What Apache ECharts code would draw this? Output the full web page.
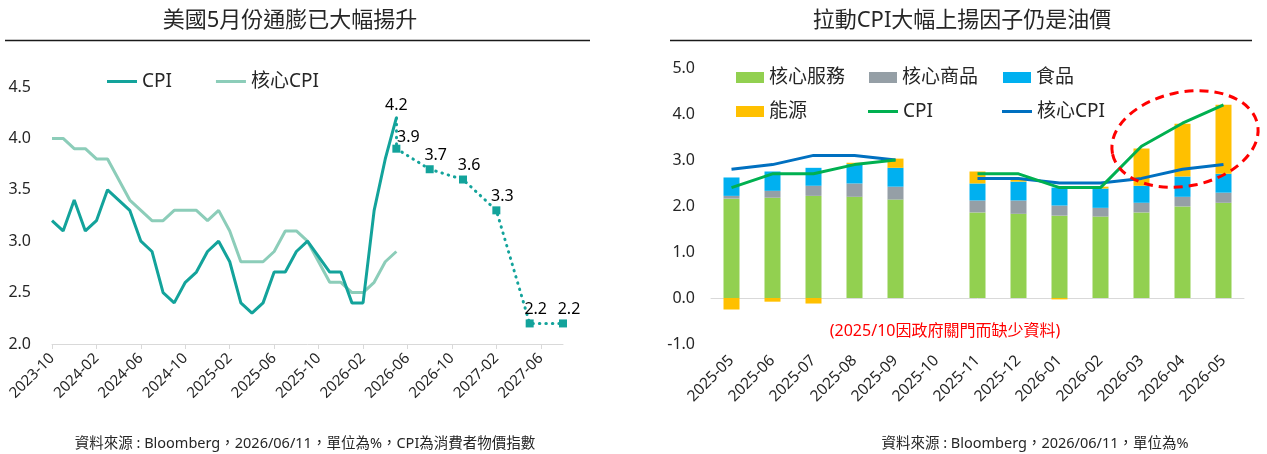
<!DOCTYPE html>
<html><head><meta charset="utf-8">
<script src="https://cdn.jsdelivr.net/npm/echarts@6/dist/echarts.min.js"></script>
<style>html,body{margin:0;padding:0;background:#fff}#c{width:1267px;height:454px}</style>
</head><body><div id="c"></div>
<script>
// ---------- Left chart data ----------
const leftMonths = ['2023-10','2023-11','2023-12',
 '2024-01','2024-02','2024-03','2024-04','2024-05','2024-06','2024-07','2024-08','2024-09','2024-10','2024-11','2024-12',
 '2025-01','2025-02','2025-03','2025-04','2025-05','2025-06','2025-07','2025-08','2025-09','2025-10','2025-11','2025-12',
 '2026-01','2026-02','2026-03','2026-04','2026-05','2026-06','2026-07','2026-08','2026-09','2026-10','2026-11','2026-12',
 '2027-01','2027-02','2027-03','2027-04','2027-05','2027-06','2027-07','2027-08'];
const leftCPI = [3.2,3.1,3.4,
 3.1,3.2,3.5,3.4,3.3,3.0,2.9,2.5,2.4,2.6,2.7,2.9,
 3.0,2.8,2.4,2.3,2.4,2.7,2.7,2.9,3.0,null,2.7,2.7,
 2.4,2.4,3.3,3.8,4.2,null,null,null,null,null,null,null,
 null,null,null,null,null,null,null,null];
const leftCore = [4.0,4.0,3.9,
 3.9,3.8,3.8,3.6,3.4,3.3,3.2,3.2,3.3,3.3,3.3,3.2,
 3.3,3.1,2.8,2.8,2.8,2.9,3.1,3.1,3.0,null,2.6,2.6,
 2.5,2.5,2.6,2.8,2.9,null,null,null,null,null,null,null,
 null,null,null,null,null,null,null,null];
const forecastMonths = ['2026-05','2026-08','2026-11','2027-02','2027-05','2027-08'];
const forecastValues = [3.9,3.7,3.6,3.3,2.2,2.2];
const leftYTicks = [2.0,2.5,3.0,3.5,4.0,4.5];

// ---------- Right chart data ----------
const rightMonths = ['2025-05','2025-06','2025-07','2025-08','2025-09','2025-10','2025-11','2025-12','2026-01','2026-02','2026-03','2026-04','2026-05'];
const coreServices = [2.16,2.18,2.22,2.20,2.14,null,1.86,1.83,1.79,1.77,1.86,1.99,2.07];
const coreGoods    = [0.06,0.15,0.22,0.29,0.28,null,0.26,0.29,0.22,0.19,0.21,0.21,0.22];
const food         = [0.40,0.42,0.39,0.42,0.41,null,0.37,0.41,0.39,0.42,0.37,0.44,0.41];
const energy       = [-0.25,-0.08,-0.12,0.03,0.20,null,0.26,0.06,-0.03,0.04,0.81,1.15,1.50];
const rightCPI     = [2.4,2.7,2.7,2.9,3.0,null,2.7,2.7,2.4,2.4,3.3,3.8,4.2];
const rightCore    = [2.8,2.9,3.1,3.1,3.0,null,2.6,2.6,2.5,2.5,2.6,2.8,2.9];
const rightYTicks = [-1.0,0.0,1.0,2.0,3.0,4.0,5.0];

const FONT = "'Noto Sans','Noto Sans CJK TC',sans-serif";
const TXT = '#262626';
const AX = '#D9D9D9';
const TEAL = '#13A39B', LTEAL = '#8CCDB9';
const C_SERV='#92D050', C_GOOD='#959FA6', C_FOOD='#00B0F0', C_ENER='#FFC000', C_CPI='#00B050', C_CORE='#0070C0';
const DOT = {color:TEAL, width:3, type:[0.5,6], cap:'round'};

const fcData = forecastMonths.map((m,i)=>{
  const item = {value:[m, forecastValues[i]]};
  if (i===0) item.label = {offset:[12,5]};
  return item;
});
const lastIdx = 31;
const cpiData = leftCPI.map((v,i)=> i===lastIdx ? {value:v, symbol:'circle', symbolSize:1, label:{show:true}} : v);

const chart = echarts.init(document.getElementById('c'));
const legendText = {color:TXT, fontSize:19, fontFamily:FONT};
function oneLegend(name, left, top, w, h){
  return {data:[name], left:left, top:top, itemWidth:w, itemHeight:h, icon:'rect', padding:0,
    itemGap:0, textStyle:legendText, selectedMode:false};
}
chart.setOption({
  animation:false,
  textStyle:{fontFamily:FONT},
  grid:[
    {left:52, top:87, width:511, height:257},
    {left:711, top:68, width:533, height:276}
  ],
  legend:[
    {data:['CPI','核心CPI'], left:107, top:72, itemWidth:30, itemHeight:3, icon:'rect', itemGap:44, padding:0,
     textStyle:{color:TXT, fontSize:19, fontFamily:FONT}, selectedMode:false},
    oneLegend('核心服務',736,68,28,11),
    oneLegend('核心商品',869,68,28,11),
    oneLegend('食品',1003,68,28,11),
    oneLegend('能源',736,102,28,11),
    oneLegend('CPI ',868,102,30,3),
    oneLegend('核心CPI ',1002,102,30,3)
  ],
  xAxis:[
    {type:'category', gridIndex:0, data:leftMonths, boundaryGap:false,
     axisLine:{lineStyle:{color:AX}}, axisTick:{interval:3, length:5, lineStyle:{color:AX}},
     axisLabel:{interval:3, rotate:45, margin:12, color:TXT, fontSize:15, fontFamily:FONT}, splitLine:{show:false}},
    {type:'category', gridIndex:1, data:rightMonths, position:'bottom',
     axisLine:{show:false, onZero:false}, axisTick:{show:false},
     axisLabel:{interval:0, rotate:45, margin:14, color:TXT, fontSize:15.5, fontFamily:FONT}},
    {type:'category', gridIndex:1, data:rightMonths, position:'bottom',
     axisLine:{onZero:true, lineStyle:{color:AX}}, axisTick:{length:5, lineStyle:{color:AX}},
     axisLabel:{show:false}}
  ],
  yAxis:[
    {type:'value', gridIndex:0, min:leftYTicks[0], max:leftYTicks[leftYTicks.length-1], interval:0.5,
     axisLine:{show:false}, axisTick:{show:false}, splitLine:{show:false},
     axisLabel:{margin:21, color:TXT, fontSize:16, fontFamily:FONT, formatter:v=>v.toFixed(1)}},
    {type:'value', gridIndex:1, min:rightYTicks[0], max:rightYTicks[rightYTicks.length-1], interval:1,
     axisLine:{show:false}, axisTick:{show:false}, splitLine:{show:false},
     axisLabel:{margin:16, color:TXT, fontSize:16, fontFamily:FONT, formatter:v=>v.toFixed(1)}}
  ],
  series:[
    {name:'CPI', type:'line', xAxisIndex:0, yAxisIndex:0, data:cpiData,
     connectNulls:true, symbol:'none', showAllSymbol:true, z:4,
     lineStyle:{color:TEAL, width:3}, itemStyle:{color:TEAL},
     label:{show:false, position:'top', distance:4, color:'#000', fontSize:16, fontFamily:FONT, formatter:p=>p.value.toFixed(1)}},
    {name:'核心CPI', type:'line', xAxisIndex:0, yAxisIndex:0, data:leftCore, connectNulls:true, symbol:'none', z:3,
     lineStyle:{color:LTEAL, width:3}, itemStyle:{color:LTEAL}},
    {name:'預測', type:'line', xAxisIndex:0, yAxisIndex:0, data:fcData, symbol:'rect', symbolSize:8, showAllSymbol:true, z:5,
     lineStyle:DOT, itemStyle:{color:TEAL},
     label:{show:true, position:'top', distance:4, offset:[6,2], color:'#000', fontSize:16, fontFamily:FONT,
       formatter:p=>p.value[1].toFixed(1)},
     markLine:{silent:true, symbol:'none', label:{show:false}, lineStyle:DOT,
       data:[[{coord:[leftMonths[lastIdx], leftCPI[lastIdx]]},{coord:[forecastMonths[0], forecastValues[0]]}]]}},
    {name:'核心服務', type:'bar', xAxisIndex:1, yAxisIndex:1, stack:'s', data:coreServices, barWidth:16, itemStyle:{color:C_SERV}},
    {name:'核心商品', type:'bar', xAxisIndex:1, yAxisIndex:1, stack:'s', data:coreGoods, barWidth:16, itemStyle:{color:C_GOOD}},
    {name:'食品', type:'bar', xAxisIndex:1, yAxisIndex:1, stack:'s', data:food, barWidth:16, itemStyle:{color:C_FOOD}},
    {name:'能源', type:'bar', xAxisIndex:1, yAxisIndex:1, stack:'s', data:energy, barWidth:16, itemStyle:{color:C_ENER}},
    {name:'CPI ', type:'line', xAxisIndex:1, yAxisIndex:1, data:rightCPI, symbol:'none', connectNulls:false, z:5,
     lineStyle:{color:C_CPI, width:3}, itemStyle:{color:C_CPI}},
    {name:'核心CPI ', type:'line', xAxisIndex:1, yAxisIndex:1, data:rightCore, symbol:'none', connectNulls:false, z:4,
     lineStyle:{color:C_CORE, width:3}, itemStyle:{color:C_CORE}}
  ],
  graphic:[
    {type:'text', x:290, y:21, style:{text:'美國5月份通膨已大幅揚升', font:'22px '+FONT, fill:TXT, align:'center', verticalAlign:'middle'}},
    {type:'line', shape:{x1:5, y1:40.5, x2:590, y2:40.5}, style:{stroke:'#1a1a1a', lineWidth:1.5}},
    {type:'text', x:962, y:21, style:{text:'拉動CPI大幅上揚因子仍是油價', font:'22px '+FONT, fill:TXT, align:'center', verticalAlign:'middle'}},
    {type:'line', shape:{x1:670, y1:40.5, x2:1252, y2:40.5}, style:{stroke:'#1a1a1a', lineWidth:1.5}},
    {type:'text', x:305, y:444, style:{text:'資料來源 : Bloomberg，2026/06/11，單位為%，CPI為消費者物價指數', font:'14.5px '+FONT, fill:TXT, align:'center', verticalAlign:'middle'}},
    {type:'text', x:1035, y:444, style:{text:'資料來源 : Bloomberg，2026/06/11，單位為%', font:'14.5px '+FONT, fill:TXT, align:'center', verticalAlign:'middle'}},
    {type:'text', x:945, y:331, style:{text:'(2025/10因政府關門而缺少資料)', font:'16px '+FONT, fill:'#FF0000', align:'center', verticalAlign:'middle'}},
    {type:'ellipse', x:1185, y:139, rotation:0.2, z:10,
     shape:{cx:0, cy:0, rx:74, ry:47},
     style:{fill:'none', stroke:'#FF0000', lineWidth:3, lineDash:[9,6]}}
  ]
});
</script></body></html>
